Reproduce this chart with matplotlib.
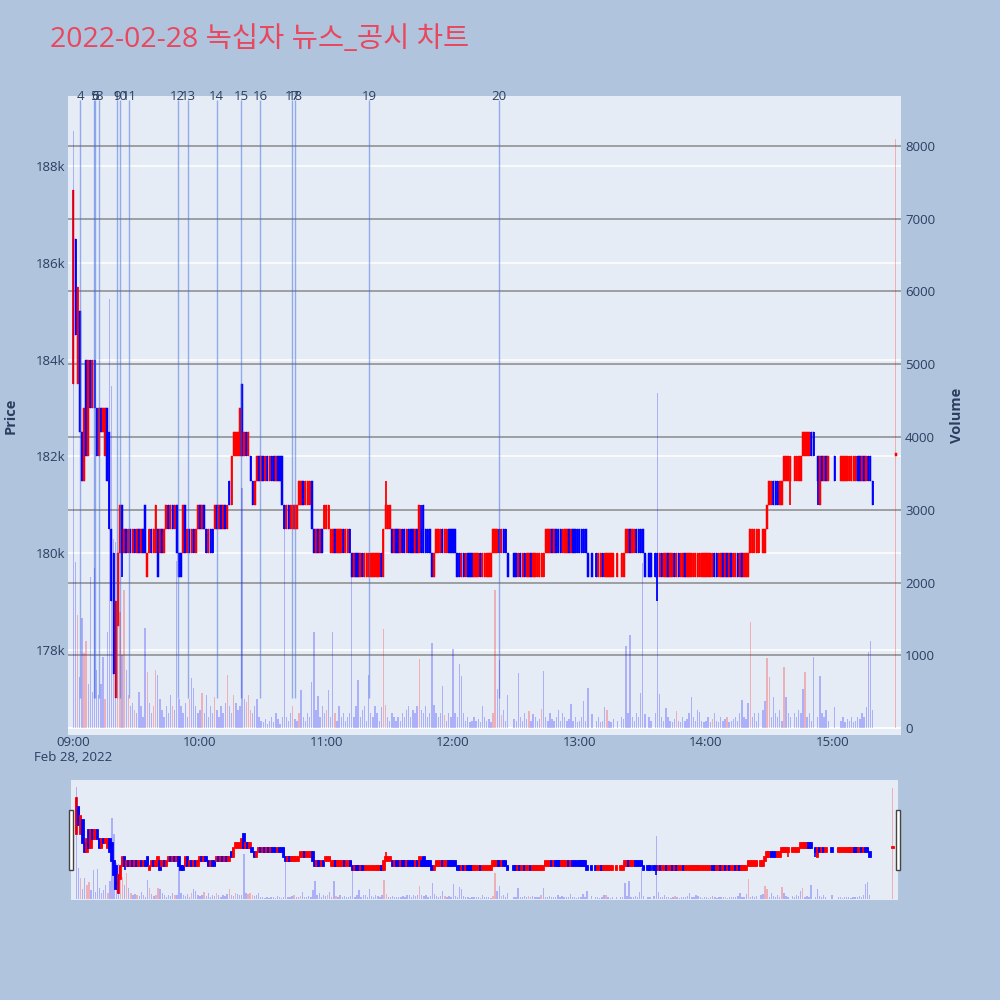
import matplotlib
matplotlib.use("Agg")
import matplotlib.pyplot as plt
import matplotlib.transforms as mtransforms
from matplotlib.patches import Rectangle

plt.rcParams['font.family'] = ['Open Sans', 'Noto Sans CJK KR', 'DejaVu Sans']

TITLE = "2022-02-28 녹십자 뉴스_공시 차트"
DATE_LABEL = "Feb 28, 2022"

# ---- minute candles, thousand won; None = no trade in that minute ----
o_09 = [183.5, 186.5, 183.5, 185.0, 182.5, 181.5, 184.0, 182.0, 184.0, 183.0,
        184.0, 183.0, 182.0, 183.0, 182.5, 182.0, 183.0, 182.5, 180.5, 180.0,
        177.0, 178.5, 180.0, 181.0, 180.0, 180.5, 180.0, 180.5, 180.0, 180.5,
        180.0, 180.5, 180.0, 180.5, 181.0, 179.5, 180.0, 180.5, 180.0, 180.0,
        180.5, 180.0, 180.5, 180.0, 180.5, 181.0, 180.5, 181.0, 180.5, 181.0,
        180.0, 180.0, 180.0, 181.0, 180.0, 180.5, 180.0, 180.5, 180.0, 180.5]
c_09 = [187.5, 184.5, 185.5, 182.5, 181.5, 183.0, 182.0, 184.0, 183.0, 184.0,
        183.0, 182.0, 183.0, 182.5, 183.0, 183.0, 181.5, 180.5, 179.0, 177.5,
        179.0, 180.0, 181.0, 180.0, 180.5, 180.0, 180.5, 180.0, 180.5, 180.0,
        180.5, 180.0, 180.5, 180.0, 180.0, 180.0, 180.5, 180.0, 180.5, 181.0,
        179.5, 180.5, 180.0, 180.5, 181.0, 180.5, 181.0, 180.5, 181.0, 180.0,
        179.5, 179.5, 181.0, 180.0, 180.5, 180.0, 180.5, 180.0, 180.5, 181.0]
o_10 = [181.0, 180.5, 181.0, 180.5, 180.0, 180.5, 180.5, 180.5, 181.0, 180.5,
        181.0, 180.5, 181.0, 180.5, 181.5, 181.0, 182.0, 182.0, 182.0, 182.0,
        183.5, 182.0, 182.5, 182.0, 182.0, 181.5, 181.0, 181.5, 182.0, 181.5,
        182.0, 181.5, 182.0, 181.5, 182.0, 182.0, 181.5, 182.0, 182.0, 182.0,
        181.0, 180.5, 181.0, 180.5, 180.5, 180.5, 180.5, 181.0, 181.0, 181.5,
        181.0, 181.0, 181.0, 181.5, 180.5, 180.0, 180.5, 180.0, 180.5, 180.5]
c_10 = [180.5, 181.0, 180.5, 180.0, 180.5, 180.0, 180.0, 181.0, 180.5, 181.0,
        180.5, 181.0, 180.5, 181.0, 181.0, 182.0, 182.5, 182.5, 182.5, 183.0,
        182.0, 182.5, 182.0, 182.5, 181.5, 181.0, 181.5, 182.0, 181.5, 182.0,
        181.5, 182.0, 181.5, 182.0, 181.5, 181.5, 182.0, 181.5, 181.5, 181.0,
        180.5, 181.0, 180.5, 181.0, 181.0, 181.0, 181.0, 181.5, 181.5, 181.0,
        181.5, 181.5, 181.5, 180.5, 180.0, 180.5, 180.0, 180.5, 180.0, 181.0]
o_11 = [180.5, 180.5, 180.0, 180.0, 180.5, 180.0, 180.0, 180.0, 180.5, 180.0,
        180.0, 180.5, 180.0, 179.5, 180.0, 180.0, 179.5, 180.0, 179.5, 179.5,
        179.5, 179.5, 179.5, 179.5, 179.5, 179.5, 180.0, 179.5, 180.5, 180.5,
        180.5, 180.5, 180.0, 180.5, 180.5, 180.0, 180.5, 180.5, 180.0, 180.5,
        180.5, 180.5, 180.0, 180.5, 180.0, 180.5, 181.0, 180.5, 180.5, 180.5,
        180.0, 179.5, 180.0, 180.0, 180.0, 180.5, 180.0, 180.0, 180.5, 180.5]
c_11 = [181.0, 181.0, 180.5, 180.5, 180.0, 180.5, 180.5, 180.5, 180.0, 180.5,
        180.5, 180.0, 179.5, 180.0, 179.5, 179.5, 180.0, 179.5, 180.0, 180.0,
        180.0, 180.0, 180.0, 180.0, 180.0, 180.0, 179.5, 180.5, 181.0, 181.0,
        181.0, 180.0, 180.5, 180.0, 180.0, 180.5, 180.0, 180.0, 180.5, 180.0,
        180.0, 180.0, 180.5, 180.0, 181.0, 180.0, 180.0, 180.0, 180.0, 180.0,
        179.5, 180.0, 180.5, 180.5, 180.5, 180.0, 180.5, 180.5, 180.0, 180.0]
o_12 = [180.5, 180.5, 180.0, 180.0, 179.5, 180.0, 179.5, 180.0, 180.0, 180.0,
        179.5, 179.5, 179.5, 180.0, 179.5, 179.5, 179.5, 179.5, 179.5, 180.0,
        180.0, 180.0, 180.5, 180.0, 180.5, 180.5, 180.0, None, None, 180.0,
        180.0, 179.5, 180.0, 179.5, 180.0, 179.5, 179.5, 180.0, 179.5, 179.5,
        179.5, 179.5, 179.5, 179.5, 180.0, 180.0, 180.0, 180.5, 180.0, 180.5,
        180.5, 180.5, 180.0, 180.0, 180.0, 180.5, 180.0, 180.5, 180.5, 180.5]
c_12 = [180.0, 180.0, 179.5, 179.5, 180.0, 179.5, 180.0, 179.5, 179.5, 179.5,
        180.0, 180.0, 180.0, 179.5, 180.0, 180.0, 180.0, 180.0, 180.0, 180.5,
        180.5, 180.5, 180.0, 180.5, 180.0, 180.0, 179.5, None, None, 179.5,
        179.5, 180.0, 179.5, 180.0, 179.5, 180.0, 180.0, 179.5, 180.0, 180.0,
        180.0, 180.0, 180.0, 180.0, 180.5, 180.5, 180.5, 180.0, 180.5, 180.0,
        180.0, 180.0, 180.5, 180.5, 180.5, 180.0, 180.5, 180.0, 180.0, 180.0]
o_13 = [180.5, 180.5, 180.5, 180.5, 180.0, None, 180.0, None, 180.0, 179.5,
        179.5, 180.0, 179.5, 179.5, 179.5, 179.5, 179.5, None, 179.5, None,
        179.5, 179.5, 180.0, 180.0, 180.5, 180.0, 180.0, 180.5, 180.5, 180.5,
        180.5, 180.0, None, 180.0, 180.0, None, 180.0, 180.0, 179.5, 180.0,
        179.5, 179.5, 180.0, 179.5, 179.5, 180.0, 179.5, 180.0, 179.5, 179.5,
        180.0, 179.5, 179.5, 179.5, 179.5, 179.5, 179.5, 179.5, 179.5, 179.5]
c_13 = [180.0, 180.0, 180.0, 180.0, 179.5, None, 179.5, None, 179.5, 180.0,
        180.0, 179.5, 180.0, 180.0, 180.0, 180.0, 180.0, None, 180.0, None,
        180.0, 180.0, 180.5, 180.5, 180.0, 180.5, 180.5, 180.0, 180.0, 180.0,
        180.0, 179.5, None, 179.5, 179.5, None, 179.5, 179.5, 180.0, 179.5,
        180.0, 180.0, 179.5, 180.0, 180.0, 179.5, 180.0, 179.5, 180.0, 180.0,
        179.5, 180.0, 180.0, 180.0, 180.0, 180.0, 180.0, 180.0, 180.0, 180.0]
o_14 = [179.5, 179.5, 179.5, 179.5, 180.0, 180.0, 179.5, 179.5, 180.0, 179.5,
        180.0, 179.5, 180.0, 179.5, 179.5, 180.0, 179.5, 180.0, 179.5, 179.5,
        179.5, 180.0, 180.0, 180.0, 180.0, 180.0, None, 180.0, 180.0, 180.5,
        181.0, 181.0, 181.5, 181.5, 181.5, 181.0, 181.0, 181.5, 181.5, 181.5,
        181.5, None, 181.5, 181.5, 181.5, 181.5, 182.0, 182.0, 182.0, 182.0,
        182.5, 182.5, None, 182.0, 181.0, 182.0, 181.5, 182.0, 181.5, None]
c_14 = [180.0, 180.0, 180.0, 180.0, 179.5, 179.5, 180.0, 180.0, 179.5, 180.0,
        179.5, 180.0, 179.5, 180.0, 180.0, 179.5, 180.0, 179.5, 180.0, 180.0,
        180.0, 180.5, 180.5, 180.5, 180.5, 180.5, None, 180.5, 180.5, 181.0,
        181.5, 181.5, 181.0, 181.0, 181.0, 181.5, 181.5, 182.0, 182.0, 182.0,
        182.0, None, 182.0, 182.0, 182.0, 182.0, 182.5, 182.5, 182.5, 182.5,
        182.0, 182.0, None, 181.5, 182.0, 181.5, 182.0, 181.5, 182.0, None]
o_15 = [None, 182.0, None, None, 181.5, 181.5, 181.5, 181.5, 181.5, 181.5,
        181.5, 181.5, 182.0, 182.0, 181.5, 182.0, 181.5, 182.0, 182.0, 181.5]
c_15 = [None, 181.5, None, None, 182.0, 182.0, 182.0, 182.0, 182.0, 182.0,
        182.0, 182.0, 181.5, 181.5, 182.0, 181.5, 182.0, 181.5, 181.5, 181.0]

# wick extremes beyond the body (minute index -> thousand won)
wick_high = {148: 181.5, 165: 181.0}
wick_low = {23: 179.5, 277: 179.0, 340: 181.0, 353: 181.0}

# closing auction 15:30
close_open, close_close, close_vol = 182.0, 182.0, 8100

# ---- minute volume ----
v_09 = [8200, 2280, 1550, 700, 1510, 1030, 1200, 600, 2080, 500,
        2200, 800, 450, 600, 980, 400, 1320, 5900, 4700, 2600,
        2550, 1750, 1600, 1000, 1900, 800, 450, 300, 350, 250,
        200, 500, 300, 150, 1370, 770, 350, 200, 300, 800,
        730, 400, 250, 150, 300, 200, 450, 300, 250, 2290,
        400, 300, 200, 350, 150, 400, 690, 550, 300, 200]
v_10 = [250, 480, 200, 450, 150, 300, 200, 430, 250, 150,
        300, 200, 350, 730, 300, 200, 450, 350, 250, 300,
        3300, 400, 360, 450, 250, 200, 300, 400, 150, 100,
        80, 120, 60, 100, 150, 80, 200, 120, 60, 150,
        2750, 150, 100, 200, 300, 120, 100, 200, 520, 150,
        100, 200, 150, 630, 1320, 250, 440, 150, 300, 200]
v_11 = [250, 520, 150, 1320, 200, 100, 300, 150, 200, 100,
        150, 200, 2080, 150, 300, 660, 150, 250, 300, 100,
        730, 200, 150, 300, 200, 100, 290, 1360, 320, 150,
        100, 200, 150, 100, 150, 100, 200, 150, 250, 300,
        150, 250, 200, 300, 950, 250, 200, 300, 150, 200,
        1170, 320, 200, 150, 200, 580, 180, 100, 200, 150]
v_12 = [1090, 200, 150, 880, 720, 200, 100, 150, 80, 100,
        150, 100, 120, 80, 300, 150, 100, 120, 80, 200,
        1900, 530, 930, 180, 250, 100, 450, 0, 0, 120,
        100, 750, 150, 100, 200, 120, 230, 100, 190, 150,
        100, 120, 260, 790, 150, 100, 200, 120, 100, 150,
        250, 100, 200, 150, 100, 120, 330, 100, 150, 80]
v_13 = [100, 150, 370, 100, 550, 0, 190, 0, 100, 150,
        80, 100, 290, 250, 100, 80, 120, 0, 100, 0,
        150, 120, 1130, 200, 1280, 150, 100, 200, 150, 480,
        2270, 190, 0, 150, 100, 0, 200, 4600, 470, 150,
        100, 280, 150, 100, 80, 120, 230, 100, 80, 150,
        100, 120, 200, 420, 150, 100, 250, 220, 100, 80]
v_14 = [100, 150, 80, 120, 200, 100, 80, 150, 100, 120,
        150, 80, 100, 120, 150, 100, 200, 390, 150, 120,
        350, 1460, 150, 200, 100, 200, 0, 250, 370, 960,
        700, 150, 420, 200, 150, 250, 100, 840, 420, 200,
        150, 0, 200, 150, 250, 200, 530, 770, 150, 200,
        100, 980, 0, 150, 720, 200, 150, 250, 100, 0]
v_15 = [0, 290, 0, 0, 100, 150, 80, 120, 100, 150,
        80, 100, 150, 120, 200, 150, 290, 1040, 1200, 250]

# minutes whose volume bar is drawn in the buy (red) colour; all others are blue
red_vol_minutes = [2, 5, 6, 15, 21, 22, 24, 26, 29, 35, 38, 39, 47, 55, 61, 67, 73,
                   76, 82, 83, 84, 104, 107, 120, 124, 147, 148, 164, 176, 199, 200,
                   203, 216, 222, 253, 286, 303, 310, 321, 329, 330, 337, 347, 390]

# ---- news markers ----
news_ids = [4, 5, 6, 8, 9, 10, 11, 12, 13, 14, 15, 16, 17, 18, 19, 20]
news_times = ["09:03:18", "09:09:36", "09:10:18", "09:12:12", "09:20:48", "09:22:06",
              "09:26:30", "09:49:24", "09:54:30", "10:07:54", "10:19:36", "10:28:36",
              "10:43:48", "10:45:12", "11:20:12", "12:21:54"]

hour_ticks = ["09:00", "10:00", "11:00", "12:00", "13:00", "14:00", "15:00"]
price_ticks = [178000, 180000, 182000, 184000, 186000, 188000]
vol_ticks = [0, 1000, 2000, 3000, 4000, 5000, 6000, 7000, 8000]


def to_min(t):
    h, m, s = [int(x) for x in t.split(":")]
    return (h - 9) * 60 + m + s / 60.0


# ---- assemble ----
mins, O, C, V = [], [], [], []
idx = 0
for os_, cs, vs in [(o_09, c_09, v_09), (o_10, c_10, v_10), (o_11, c_11, v_11),
                    (o_12, c_12, v_12), (o_13, c_13, v_13), (o_14, c_14, v_14),
                    (o_15, c_15, v_15)]:
    for o, c, v in zip(os_, cs, vs):
        if o is not None:
            mins.append(idx); O.append(o * 1000); C.append(c * 1000); V.append(v)
        idx += 1
mins.append(to_min("15:30:00")); O.append(close_open * 1000); C.append(close_close * 1000); V.append(close_vol)

H = [max(o, c, wick_high.get(m, 0) * 1000) for m, o, c in zip(mins, O, C)]
L = [min(o, c, wick_low.get(m, 1e9) * 1000) for m, o, c in zip(mins, O, C)]

RED, BLUE = '#FF0000', '#0000FF'
ccol = [RED if c >= o else BLUE for o, c in zip(O, C)]
red_set = set(red_vol_minutes)
vcol = [(1, 0, 0, 0.25) if round(m) in red_set else (0, 0, 1, 0.25) for m in mins]

BG = '#E5ECF6'
PAPER = '#B0C4DE'
TXT = '#2a3f5f'
XLIM = (-2.6, 392.5)
PLIM = (176240, 189450)
VLIM = (-96, 8687)


def draw_candles(ax, wick_lw=1.3, edge_lw=0.35):
    bottoms = [min(o, c) for o, c in zip(O, C)]
    heights = [max(abs(c - o), 60) for o, c in zip(O, C)]
    ax.vlines(mins, L, H, colors=ccol, linewidth=wick_lw, zorder=3)
    ax.bar(mins, heights, bottom=bottoms, width=0.75, color=ccol, edgecolor=ccol,
           linewidth=edge_lw, zorder=3)


fig = plt.figure(figsize=(10, 10), dpi=100, facecolor=PAPER)
fig.text(0.05, 0.96, TITLE, fontsize=20.5, color='#E9475E', ha='left', va='center')

ax_p = fig.add_axes([0.068, 0.265, 0.833, 0.639])
ax_p.set_facecolor(BG)
ax_v = ax_p.twinx()

ax_p.set_xlim(*XLIM)
ax_p.set_ylim(*PLIM)
ax_v.set_ylim(*VLIM)

# grids (under the candles)
ax_p.set_axisbelow(True)
ax_p.set_yticks(price_ticks)
ax_p.set_yticklabels([f"{p // 1000}k" for p in price_ticks])
ax_p.grid(axis='y', color='white', linewidth=1.1)
ax_p.grid(axis='x', visible=False)
vtrans = mtransforms.blended_transform_factory(ax_p.transAxes, ax_v.transData)
for v in vol_ticks[1:]:
    ax_p.plot([0, 1], [v, v], transform=vtrans, color='#8a8a8a', linewidth=1.1, zorder=1)
ax_p.plot([0, 1], [0, 0], transform=vtrans, color='white', linewidth=1.3, zorder=1)

draw_candles(ax_p)

# news lines and labels
news_m = [to_min(t) for t in news_times]
ax_p.vlines(news_m, 177000, 189370, colors=(0.255, 0.41, 0.88, 0.5), linewidth=1.0, zorder=4)
ntrans = mtransforms.blended_transform_factory(ax_p.transData, ax_p.transAxes)
for nid, nm in zip(news_ids, news_m):
    ax_p.text(nm, 1.0, str(nid), transform=ntrans, ha='center', va='center',
              fontsize=9.5, color=TXT, clip_on=False, zorder=6)

# volume bars
ax_v.bar(mins, V, width=0.65, color=vcol, linewidth=0, zorder=2)
ax_v.set_yticks(vol_ticks)
ax_v.set_yticklabels([str(v) for v in vol_ticks])

ax_p.set_xticks([0, 60, 120, 180, 240, 300, 360])
ax_p.set_xticklabels(hour_ticks)
ax_p.text(0, -0.035, DATE_LABEL, transform=ntrans, ha='center', va='center',
          fontsize=9.5, color=TXT)

for a in (ax_p, ax_v):
    for s in a.spines.values():
        s.set_visible(False)
    a.tick_params(length=0, labelsize=9.5, labelcolor=TXT)
ax_p.tick_params(axis='y', pad=2)
ax_p.tick_params(axis='x', pad=0.5)
ax_v.tick_params(axis='y', pad=3)

ax_p.set_ylabel("Price", fontsize=10.5, fontweight='bold', color=TXT)
ax_p.yaxis.set_label_coords(-0.060, 0.5)
ax_v.set_ylabel("Volume", fontsize=10.5, fontweight='bold', color=TXT)
ax_v.yaxis.set_label_coords(1.059, 0.5)

# ---- range slider ----
ax_s = fig.add_axes([0.071, 0.10, 0.827, 0.12])
ax_s.set_facecolor(BG)
ax_s.set_xlim(*XLIM)
ax_s.set_ylim(*PLIM)
draw_candles(ax_s, wick_lw=1.2, edge_lw=1.3)
ax_sv = ax_s.twinx()
ax_sv.set_ylim(*VLIM)
ax_sv.bar(mins, V, width=0.65, color=vcol, linewidth=0)
for a in (ax_s, ax_sv):
    a.set_xticks([]); a.set_yticks([])
    for s in a.spines.values():
        s.set_visible(False)

for hx in (0.0693, 0.8955):
    fig.patches.append(Rectangle((hx, 0.130), 0.004, 0.060, transform=fig.transFigure,
                                 facecolor='white', edgecolor='#444444', linewidth=1.0,
                                 zorder=10))

fig.savefig("out.png", dpi=100, facecolor=PAPER)
